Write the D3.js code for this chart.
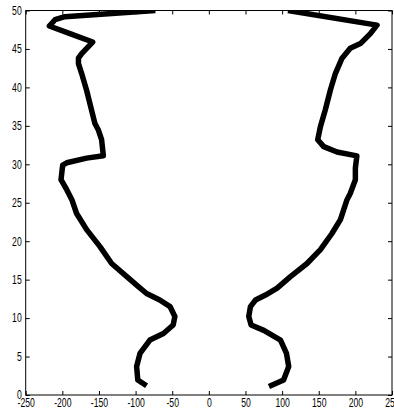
<!DOCTYPE html>
<html><head><meta charset="utf-8">
<script src="https://cdn.jsdelivr.net/npm/d3@7"></script>
<style>
body{margin:0;background:#fff;}
svg{display:block;}
.tick text{font-family:"Liberation Sans",Arial,sans-serif;font-size:12px;fill:#000;}
</style></head><body>
<svg id="c" width="394" height="411"></svg>
<script>
const xTicks = [-250,-200,-150,-100,-50,0,50,100,150,200,250];
const yTicks = [0,5,10,15,20,25,30,35,40,45,50];

const leftX = [-85,-97,-98.6,-94,-80.5,-62,-48.7,-46.4,-53,-67,-85,-98.6,-112,-132.7,-148.6,-166.8,-180.5,-187,-194,-201.8,-199.5,-194,-166.8,-144,-146.4,-151,-155.5,-166.8,-173.6,-178,-178,-173.6,-158.6,-189.6,-217.8,-210,-196.4,-73];
const leftY = [1.2,1.95,3.7,5.4,7.15,8.0,9.1,10.2,11.5,12.35,13.2,14.3,15.4,17.1,19.3,21.5,23.6,25.4,26.7,28.0,29.9,30.2,30.8,31.1,33.2,34.5,35.3,39.6,41.8,43.1,43.8,44.4,45.9,47.0,47.98,48.8,49.2,50];

const rightX = [82,102,109,106,97.8,75,57.7,54.5,56.8,63.7,77.3,93.2,111.4,134,152.3,168,179.6,188.6,193,200,200,202,175,156.8,148.6,152.3,159,166,172.7,181.8,193,206.9,220.5,229.5,108];
const rightY = [1.1,1.95,3.7,5.4,7.15,8.4,9.1,10.2,11.5,12.35,13.0,13.9,15.4,17.1,18.9,21.0,22.8,25.4,26.2,28.0,29.5,31.1,31.6,32.3,33.2,34.9,37.1,39.7,41.8,43.8,45.1,45.7,47.0,48.1,50];

const svg = d3.select("#c");
const L = 25.7, R = 392, T = 10.5, B = 395;
const x = d3.scaleLinear().domain([-250,250]).range([L,R]);
const y = d3.scaleLinear().domain([0,50]).range([B,T]);

const g = svg.append("g");
g.append("rect").attr("x",L).attr("y",T).attr("width",R-L).attr("height",B-T)
  .attr("fill","none").attr("stroke","#000").attr("stroke-width",1);

svg.append("clipPath").attr("id","cp").append("rect")
  .attr("x",L).attr("y",T).attr("width",R-L).attr("height",B-T);

const line = d3.line().x(d=>x(d[0])).y(d=>y(d[1]));
const lp = leftX.map((v,i)=>[v,leftY[i]]);
const rp = rightX.map((v,i)=>[v,rightY[i]]);
[lp,rp].forEach(p=>{
  g.append("path").attr("d",line(p)).attr("fill","none").attr("stroke","#000")
   .attr("stroke-width",5.5).attr("stroke-linejoin","round").attr("clip-path","url(#cp)");
});

const fmt = d => String(d);
const xb = g.append("g").attr("transform",`translate(0,${B})`)
  .call(d3.axisBottom(x).tickValues(xTicks).tickSize(-4).tickPadding(3).tickFormat(fmt));
const xt = g.append("g").attr("transform",`translate(0,${T})`)
  .call(d3.axisTop(x).tickValues(xTicks).tickSize(-4).tickFormat(""));
const yl = g.append("g").attr("transform",`translate(${L},0)`)
  .call(d3.axisLeft(y).tickValues(yTicks).tickSize(-4).tickPadding(4).tickFormat(fmt));
const yr = g.append("g").attr("transform",`translate(${R},0)`)
  .call(d3.axisRight(y).tickValues(yTicks).tickSize(-4).tickFormat(""));
[xb,xt,yl,yr].forEach(a=>{a.select(".domain").remove(); a.selectAll("line").attr("stroke","#000");});

// condensed look of the original labels
xb.selectAll("text").each(function(){
  const t = d3.select(this);
  t.attr("transform","scale(0.72,1)");
});
yl.selectAll("text").each(function(){
  const t = d3.select(this);
  const xx = +t.attr("x");
  t.attr("x", xx/0.72).attr("transform","scale(0.72,1)");
});
</script>
</body></html>
